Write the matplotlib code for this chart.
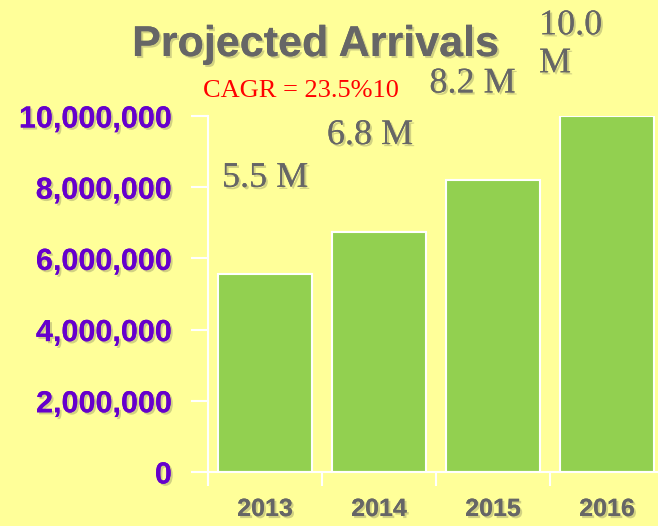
import numpy as np
import matplotlib.pyplot as plt
import matplotlib.patheffects as pe
from matplotlib.ticker import FuncFormatter

# donnees
annees = ['2013', '2014', '2015', '2016']
arrivees = [5.55e6, 6.75e6, 8.2e6, 10.0e6]
etiquettes = ['5.5 M', '6.8 M', '8.2 M', '10.0\nM']
titre = 'Projected Arrivals'
cagr = 'CAGR = 23.5%10'
graduations = [0, 2e6, 4e6, 6e6, 8e6, 10e6]

fond = '#FFFF99'
vert = '#92D050'
violet = '#6600CC'
gris = '#666666'
sans = ['Liberation Sans', 'DejaVu Sans']
serif = ['Liberation Serif', 'DejaVu Serif']

ombre = [pe.withSimplePatchShadow(offset=(1.5, -1.5), shadow_rgbFace='#999966', alpha=0.45), pe.Normal()]

fig = plt.figure(figsize=(6.58, 5.26), dpi=100, facecolor=fond)
ax = fig.add_axes([208 / 658, 54 / 526, 456 / 658, 356 / 526])
ax.set_facecolor(fond)

x = np.arange(len(annees))
ax.bar(x, arrivees, width=0.83, color=vert, edgecolor='white', linewidth=1.5)
ax.set_xlim(-0.5, 3.5)
ax.set_ylim(0, 10e6)

# axes et graduations
for s in ['top', 'right']:
    ax.spines[s].set_visible(False)
for s in ['left', 'bottom']:
    ax.spines[s].set_color('white')
    ax.spines[s].set_linewidth(1.5)
ax.spines['left'].set_bounds(-0.3e6, 10e6)

ax.set_yticks(graduations)
ax.yaxis.set_major_formatter(FuncFormatter(lambda v, p: f'{int(v):,}'))
ax.tick_params(axis='y', length=12, width=1.5, color='white', pad=14)
for t in ax.get_yticklabels():
    t.set_fontfamily(sans)
    t.set_fontweight('bold')
    t.set_fontsize(22)
    t.set_color(violet)
    t.set_path_effects(ombre)

ax.set_xticks(x)
ax.set_xticklabels(annees)
ax.set_xticks(np.arange(len(annees)) - 0.5, minor=True)
ax.tick_params(axis='x', which='major', length=0, pad=18)
ax.tick_params(axis='x', which='minor', length=10, width=1.5, color='white')
for t in ax.get_xticklabels():
    t.set_fontfamily(sans)
    t.set_fontweight('bold')
    t.set_fontsize(18)
    t.set_color(gris)
    t.set_path_effects(ombre)

# etiquettes des barres
decalage_x = [0, -0.08, -0.18, -0.32]
decalage_y = [2.7e6, 2.7e6, 2.7e6, 2.0e6]
for i, (v, lab) in enumerate(zip(arrivees, etiquettes)):
    ax.text(x[i] + decalage_x[i], v + decalage_y[i], lab, ha='center', va='center',
            multialignment='left', fontsize=26, family=serif, color=gris,
            clip_on=False, path_effects=ombre)

fig.text(315 / 658, 1 - 45 / 526, titre, ha='center', va='center', fontsize=31,
         fontweight='bold', family=sans, color=gris, path_effects=ombre)
fig.text(301 / 658, 1 - 91 / 526, cagr, ha='center', va='center', fontsize=19,
         family=serif, color='red')

plt.savefig('out.png', dpi=100, facecolor=fond)
